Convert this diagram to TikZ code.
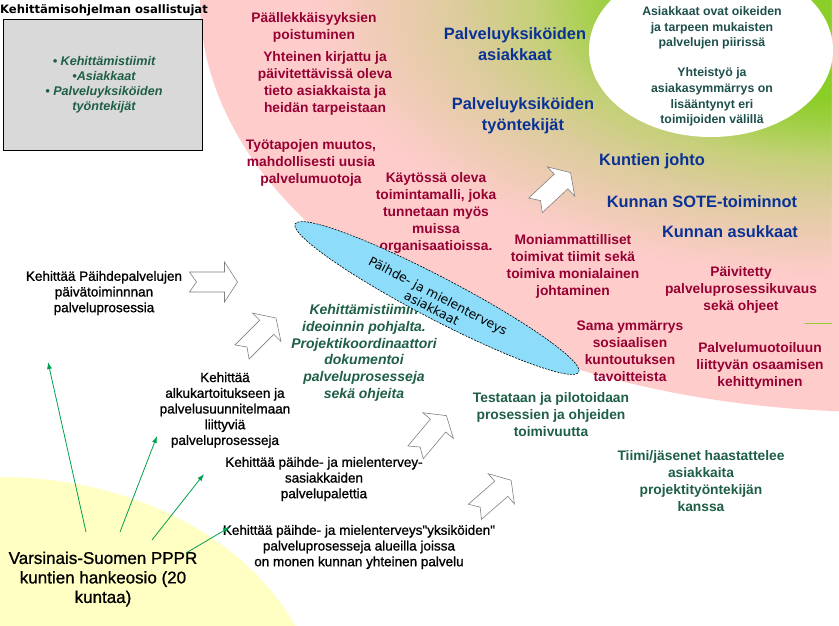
\documentclass[tikz,border=0pt]{standalone}
\usepackage{fontspec}
\setmainfont{Liberation Sans}
\newfontfamily\dejavu{DejaVu Sans}
\newfontfamily\heavy[FakeBold=1]{Liberation Sans}
\usetikzlibrary{shapes.geometric,arrows.meta}
\definecolor{pinkbg}{RGB}{255,204,204}
\definecolor{greenc}{RGB}{140,206,40}
\definecolor{yellowbg}{RGB}{255,255,196}
\definecolor{skyb}{RGB}{140,220,250}
\definecolor{redtx}{RGB}{150,0,50}
\definecolor{bluetx}{RGB}{10,50,150}
\definecolor{grntx}{RGB}{30,95,70}
\definecolor{tealtx}{RGB}{30,80,75}
\definecolor{boxgray}{RGB}{217,217,217}
\definecolor{arrgray}{RGB}{128,128,128}
\definecolor{garrc}{RGB}{0,160,80}
\definecolor{linegreen}{RGB}{150,205,50}
\newcommand\myfs[2]{\fontsize{#1}{#2}\selectfont}
\begin{document}
\begin{tikzpicture}[x=1pt,y=-1pt,
  txt/.style={align=center, inner sep=0pt},
  redt/.style={txt, text=redtx, font=\bfseries\myfs{13.8}{17}},
  bluet/.style={txt, text=bluetx, font=\bfseries\myfs{16.4}{21}},
  grnt/.style={txt, text=grntx, font=\bfseries\myfs{13.8}{17}},
  grni/.style={txt, text=grntx, font=\bfseries\itshape\myfs{14}{16.7}},
  blkt/.style={txt, text=black, font=\heavy\myfs{13.5}{15.7}},
  wtt/.style={txt, text=tealtx, font=\bfseries\myfs{12.3}{15.8}},
  arrowline/.style={draw=arrgray, fill=white, line width=0.6pt, line join=miter},
  garrow/.style={draw=garrc, line width=0.8pt, -{Latex[length=7pt,width=5pt]}},
  barrow/.pic={\draw[arrowline] (-24,10) -- (11,10) -- (11,20) -- (24,0) -- (11,-20) -- (11,-10) -- (-24,-10) -- (-17,0) -- cycle;}
]
\useasboundingbox (0,0) rectangle (839,625);
\fill[white] (0,0) rectangle (839,625);
% background regions
\fill[yellowbg] (0,720) ellipse [x radius=320, y radius=243];
\fill[pinkbg] (880,0) ellipse [x radius=680, y radius=412];
\begin{scope}
  \clip (880,0) ellipse [x radius=680, y radius=412];
  \clip (300,-5) rectangle (831,323);
  \foreach \a/\b/\ra/\ga/\ba/\rb/\gb/\bb in {280/240/255/204/204/238/204/180, 240/200/238/204/180/220/204/155, 200/160/220/204/155/196/208/120, 160/130/196/208/120/165/208/75, 130/100/165/208/75/140/206/40}{
    \foreach \k in {0,...,11}{
      \pgfmathsetmacro{\rr}{\a-(\a-\b)*\k/12}
      \pgfmathsetmacro{\rx}{1.9*\rr}
      \pgfmathtruncatemacro{\myR}{\ra+(\rb-\ra)*\k/12}
      \pgfmathtruncatemacro{\myG}{\ga+(\gb-\ga)*\k/12}
      \pgfmathtruncatemacro{\myB}{\ba+(\bb-\ba)*\k/12}
      \definecolor{ringc}{RGB}{\myR,\myG,\myB}
      \fill[ringc] (839,0) ellipse [x radius=\rx, y radius=\rr];
    }
  }
  \fill[greenc] (839,0) ellipse [x radius=190, y radius=100];
\end{scope}
\fill[white] (711,50) ellipse [x radius=122, y radius=87];
\draw[linegreen, line width=1pt] (805,323) -- (832,323);

% top-left box
\node[txt, font=\dejavu\bfseries\myfs{11.6}{14}] (title) at (104,10) {Kehittämisohjelman osallistujat};
\node[draw=black, line width=0.8pt, fill=boxgray, minimum width=199pt, minimum height=131pt, inner sep=0pt] (box) at (102.5,84.5) {};
\node[txt, text=grntx, font=\bfseries\itshape\myfs{12.6}{15}] (boxtxt) at (104,85) {• Kehittämistiimit\\•Asiakkaat\\• Palveluyksiköiden\\työntekijät};

% white ellipse text
\node[wtt] (w1) at (712,28) {Asiakkaat ovat oikeiden\\ja tarpeen mukaisten\\palvelujen piirissä};
\node[wtt] (w2) at (712,97) {Yhteistyö ja\\asiakasymmärrys on\\lisääntynyt eri\\toimijoiden välillä};

% red texts
\node[redt] (r1) at (314,27) {Päällekkäisyyksien\\poistuminen};
\node[redt] (r2) at (325,83) {Yhteinen kirjattu ja\\päivitettävissä oleva\\tieto asiakkaista ja\\heidän tarpeistaan};
\node[redt] (r3) at (311,163) {Työtapojen muutos,\\mahdollisesti uusia\\palvelumuotoja};
\node[redt] (r4) at (436,213) {Käytössä oleva\\toimintamalli, joka\\tunnetaan myös\\muissa\\organisaatioissa.};
\node[redt] (r5) at (573,266) {Moniammattilliset\\toimivat tiimit sekä\\toimiva monialainen\\johtaminen};
\node[redt] (r6) at (741,290) {Päivitetty\\palveluprosessikuvaus\\sekä ohjeet};
\node[redt] (r7) at (630,351) {Sama ymmärrys\\sosiaalisen\\kuntoutuksen\\tavoitteista};
\node[redt] (r8) at (760,366) {Palvelumuotoiluun\\liittyvän osaamisen\\kehittyminen};

% blue texts
\node[bluet] (b1) at (515,44) {Palveluyksiköiden\\asiakkaat};
\node[bluet] (b2) at (523,116) {Palveluyksiköiden\\työntekijät};
\node[bluet] (b3) at (652,161) {Kuntien johto};
\node[bluet] (b4) at (702,202) {Kunnan SOTE-toiminnot};
\node[bluet] (b5) at (730,232) {Kunnan asukkaat};

% green texts
\node[grni] (gi) at (364,353) {Kehittämistiimin\\ideoinnin pohjalta.\\Projektikoordinaattori\\dokumentoi\\palveluprosesseja\\sekä ohjeita};
\node[grnt] (gt1) at (551,415) {Testataan ja pilotoidaan\\prosessien ja ohjeiden\\toimivuutta};
\node[grnt] (gt2) at (701,481) {Tiimi/jäsenet haastattelee\\asiakkaita\\projektityöntekijän\\kanssa};

% blue ellipse
\node[ellipse, draw=black, dash pattern=on 2pt off 1.2pt, line width=0.6pt, fill=skyb, minimum width=320pt, minimum height=42pt, inner sep=0pt, rotate=-27.6] (pm) at (437,298) {};
\node[txt, rotate=-27.6, font=\dejavu\myfs{12.5}{14}] (pmt) at (435,302) {Päihde- ja mielenterveys\\asiakkaat};

% black texts
\node[blkt] (k1) at (104,293) {Kehittää Päihdepalvelujen\\päivätoiminnnan\\palveluprosessia};
\node[blkt] (k2) at (225,410) {Kehittää\\alkukartoitukseen ja\\palvelusuunnitelmaan\\liittyviä\\palveluprosesseja};
\node[blkt] (k3) at (324,479) {Kehittää päihde- ja mielentervey-\\sasiakkaiden\\palvelupalettia};
\node[blkt] (k4) at (359,547) {Kehittää päihde- ja mielenterveys\char34 yksiköiden\char34\\palveluprosesseja alueilla joissa\\on monen kunnan yhteinen palvelu};
\node[txt, font=\heavy\myfs{17}{19.5}] (vs) at (103,579) {Varsinais-Suomen PPPR\\kuntien hankeosio (20\\kuntaa)};

% block arrows
\pic at (213.5,282) {barrow};
\pic[rotate=45] at (259,335) {barrow};
\pic[rotate=50] at (431,434) {barrow};
\pic[rotate=41] at (493,496) {barrow};
\pic[rotate=43] at (553,189) {barrow};

% green arrows
\coordinate (g1s) at (86,532); \coordinate (g1e) at (48,362);
\coordinate (g2s) at (120,532); \coordinate (g2e) at (157,436);
\coordinate (g3s) at (152,540); \coordinate (g3e) at (204,474);
\coordinate (g4s) at (186,553); \coordinate (g4e) at (230,527);
\draw[garrow] (g1s) -- (g1e);
\draw[garrow] (g2s) -- (g2e);
\draw[garrow] (g3s) -- (g3e);
\draw[garrow] (g4s) -- (g4e);
\end{tikzpicture}
\end{document}
